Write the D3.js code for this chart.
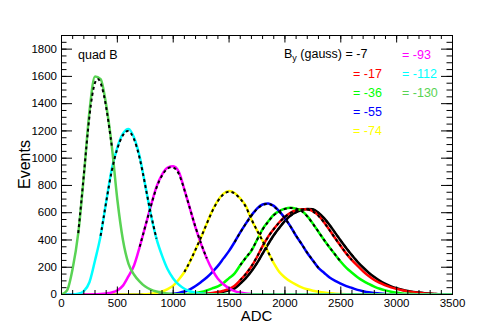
<!DOCTYPE html>
<html><head><meta charset="utf-8">
<script src="https://cdn.jsdelivr.net/npm/d3@7"></script>
<style>body{margin:0;background:#fff}svg{display:block}text{font-family:"Liberation Sans",Arial,Helvetica,sans-serif}</style>
</head><body><svg id="c" width="480" height="327"></svg>
<script>
// ADC bin grid (0..3500 step 50)
const adcBins = d3.range(0, 3501, 50);
const byLabels = ["-7","-17","-36","-55","-74","-93","-112","-130"];
const colors = ["#000000","#ff0000","#00ff00","#0000ff","#ffff00","#ff00ff","#00ffff","#59d354"];
const xTicks = [0,500,1000,1500,2000,2500,3000,3500];
const yTicks = [0,200,400,600,800,1000,1200,1400,1600,1800];

const cntM7 = [
 0,0,0,0,0,0,0,0,0,0,
 0,0,0,0,0,0,0,0,0,0,
 0,0,0,0,1,2,3,6,12,20,
 30,45,80,120,170,230,300,370,435,490,
 540,580,605,620,628,625,600,560,510,452,
 395,340,288,240,198,160,128,100,78,60,
 46,35,26,19,14,10,7,4,2,1,
 0];
const cntM17 = [
 0,0,0,0,0,0,0,0,0,0,
 0,0,0,0,0,0,0,0,0,0,
 0,0,0,0,2,4,7,11,18,28,
 42,65,105,150,205,275,355,425,480,530,
 570,600,618,625,625,612,580,530,472,412,
 355,300,252,210,170,135,106,86,67,52,
 41,31,23,17,12,8,5,3,1,0,
 0];
const cntM36 = [
 0,0,0,0,0,0,0,0,0,0,
 0,0,0,0,0,0,0,0,0,0,
 0,1,2,5,10,18,30,45,60,85,
 120,155,215,270,320,400,480,535,585,612,
 630,637,630,615,575,520,460,400,345,292,
 240,195,160,127,100,78,58,42,30,20,
 13,8,5,3,1,0,0,0,0,0,
 0];
const cntM55 = [
 0,0,0,0,0,0,0,0,0,0,
 0,0,0,0,0,0,0,0,0,2,
 5,12,22,38,62,92,125,165,210,265,
 320,385,455,520,580,630,660,668,650,610,
 560,500,430,370,305,250,195,160,125,100,
 80,62,48,34,24,16,11,7,4,2,
 1,0,0,0,0,0,0,0,0,0,
 0];
const cntM74 = [
 0,0,0,0,0,0,0,0,0,0,
 0,0,0,0,0,2,5,12,22,40,
 65,110,165,240,330,420,520,615,690,740,
 760,745,705,650,550,470,395,310,230,165,
 125,95,72,52,38,28,20,14,10,6,
 4,2,1,0,0,0,0,0,0,0,
 0,0,0,0,0,0,0,0,0,0,
 0];
const cntM93 = [
 0,0,0,0,0,0,2,4,8,15,
 30,65,135,215,350,500,650,790,880,930,
 940,900,770,630,490,370,265,180,115,75,
 45,25,14,7,3,1,0,0,0,0,
 0,0,0,0,0,0,0,0,0,0,
 0,0,0,0,0,0,0,0,0,0,
 0,0,0,0,0,0,0,0,0,0,
 0];
const cntM112 = [
 0,0,0,5,25,90,250,430,680,920,
 1080,1180,1215,1150,1010,800,585,410,285,185,
 118,72,42,24,13,7,3,1,0,0,
 0,0,0,0,0,0,0,0,0,0,
 0,0,0,0,0,0,0,0,0,0,
 0,0,0,0,0,0,0,0,0,0,
 0,0,0,0,0,0,0,0,0,0,
 0];
const cntM130 = [
 0,30,190,450,870,1340,1600,1580,1390,1090,
 695,400,225,145,95,58,36,22,13,7,
 4,2,1,0,0,0,0,0,0,0,
 0,0,0,0,0,0,0,0,0,0,
 0,0,0,0,0,0,0,0,0,0,
 0,0,0,0,0,0,0,0,0,0,
 0,0,0,0,0,0,0,0,0,0,
 0];
// fit ranges (ADC) for the dashed fitted curves
const fitLo = [1600,1600,1600,1550,1100,680,350,150];
const fitHi = [2650,2600,2500,2300,1900,1340,860,480];

const series = [cntM7,cntM17,cntM36,cntM55,cntM74,cntM93,cntM112,cntM130];

const L=61, R=452, T=35, B=294;
const x = d3.scaleLinear().domain([0,3500]).range([L,R]);
const y = d3.scaleLinear().domain([0,1900]).range([B,T]);
const svg = d3.select("#c");

svg.append("clipPath").attr("id","clip").append("rect")
  .attr("x",L).attr("y",T).attr("width",R-L+1).attr("height",B-T+1);
const g = svg.append("g").attr("clip-path","url(#clip)");

const line = d3.line().x(d=>x(d[0])+0.5).y(d=>y(d[1])+0.5).curve(d3.curveMonotoneX);
series.forEach((s,i)=>{
  const pts = adcBins.map((a,j)=>[a,s[j]]);
  g.append("path").datum(pts).attr("d",line)
    .attr("fill","none").attr("stroke",colors[i]).attr("stroke-width",2.5);
});
const fitLine = d3.line().x(d=>x(d[0])+0.5).y(d=>y(d[1])+0.5).curve(d3.curveBasis);
series.forEach((s,i)=>{
  const pts = adcBins.map((a,j)=>[a,s[j]]).filter(d=>d[0]>=fitLo[i]-1 && d[0]<=fitHi[i]+1);
  g.append("path").datum(pts).attr("d",fitLine)
    .attr("fill","none").attr("stroke","#000").attr("stroke-width",2)
    .attr("stroke-dasharray","3,3");
});

// axes
function styleAxis(sel){
  sel.select(".domain").remove();
  sel.selectAll("line").attr("stroke","#000");
  sel.selectAll("text").attr("font-size","11.5px").attr("fill","#000")
    .attr("font-family",'"Liberation Sans",Arial,sans-serif');
}
const xMinor = d3.range(0,3501,100), yMinor = d3.range(0,1901,50);
svg.append("g").attr("transform",`translate(0,${B})`)
  .call(d3.axisBottom(x).tickValues(xMinor).tickSize(-4).tickFormat("")).call(styleAxis);
svg.append("g").attr("transform",`translate(0,${B})`)
  .call(d3.axisBottom(x).tickValues(xTicks).tickSize(-7.5).tickPadding(5).tickFormat(d3.format("d"))).call(styleAxis);
svg.append("g").attr("transform",`translate(0,${T})`)
  .call(d3.axisTop(x).tickValues(xMinor).tickSize(-4).tickFormat("")).call(styleAxis);
svg.append("g").attr("transform",`translate(0,${T})`)
  .call(d3.axisTop(x).tickValues(xTicks).tickSize(-7.5).tickFormat("")).call(styleAxis);
svg.append("g").attr("transform",`translate(${L},0)`)
  .call(d3.axisLeft(y).tickValues(yMinor).tickSize(-5.5).tickFormat("")).call(styleAxis);
svg.append("g").attr("transform",`translate(${L},0)`)
  .call(d3.axisLeft(y).tickValues(yTicks).tickSize(-11).tickPadding(4).tickFormat(d3.format("d"))).call(styleAxis);
svg.append("g").attr("transform",`translate(${R},0)`)
  .call(d3.axisRight(y).tickValues(yMinor).tickSize(-5.5).tickFormat("")).call(styleAxis);
svg.append("g").attr("transform",`translate(${R},0)`)
  .call(d3.axisRight(y).tickValues(yTicks).tickSize(-11).tickFormat("")).call(styleAxis);

// frame
svg.append("rect").attr("x",L+0.5).attr("y",T+0.5).attr("width",R-L).attr("height",B-T)
  .attr("fill","none").attr("stroke","#000").attr("stroke-width",1);

// titles
svg.append("text").attr("x",(L+R)/2).attr("y",321).attr("text-anchor","middle")
  .attr("font-size","15px").text("ADC");
svg.append("text").attr("transform",`translate(30,${(T+B)/2}) rotate(-90)`)
  .attr("text-anchor","middle").attr("font-size","16px").text("Events");
svg.append("text").attr("x",78).attr("y",58.5).attr("font-size","12.5px").text("quad B");

// legend
const lg = svg.append("text").attr("x",284).attr("y",57.5).attr("font-size","12.5px").attr("fill",colors[0]);
lg.append("tspan").text("B");
lg.append("tspan").attr("font-size","9px").attr("dy",3).text("y");
lg.append("tspan").attr("dy",-3).text(" (gauss) = " + byLabels[0]);
const legPos = [null,[353,77.5],[353,96.5],[353,115.5],[353,134.5],[402,58.5],[402,77.5],[402,96.5]];
for(let i=1;i<8;i++){
  svg.append("text").attr("x",legPos[i][0]).attr("y",legPos[i][1]).attr("font-size","12.5px")
    .attr("fill",colors[i]).text("= " + byLabels[i]);
}
</script></body></html>
